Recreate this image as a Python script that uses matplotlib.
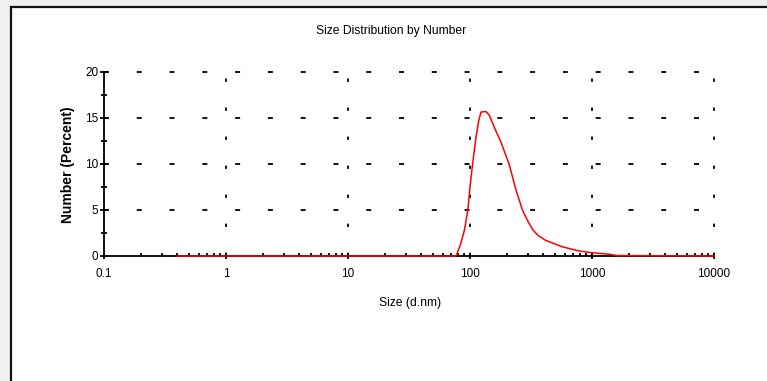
import numpy as np
import matplotlib
matplotlib.use("Agg")
import matplotlib.pyplot as plt
from matplotlib.patches import Rectangle
from matplotlib.ticker import LogLocator, MultipleLocator, FixedLocator, FixedFormatter, NullFormatter

plt.rcParams['font.family'] = ['Liberation Sans', 'DejaVu Sans']
plt.rcParams['lines.scale_dashes'] = False

# size (d.nm) and number (%)
size_nm = [0.4, 77, 84, 90, 96, 100, 105, 112, 118, 123, 135, 144, 158, 179,
           209, 238, 269, 295, 325, 360, 417, 571, 782, 1000, 1370, 1600, 10000]
number_pct = [0, 0, 1.35, 2.8, 5.0, 7.5, 10.0, 12.9, 14.75, 15.65, 15.7, 15.3, 14.0, 12.4,
              10.0, 7.2, 5.0, 3.9, 2.9, 2.25, 1.7, 1.0, 0.55, 0.35, 0.2, 0.05, 0]

x_ticks = [0.1, 1, 10, 100, 1000, 10000]
x_tick_labels = ['0.1', '1', '10', '100', '1000', '10000']
y_ticks = [0, 5, 10, 15, 20]

W, H = 767, 381
fig = plt.figure(figsize=(W / 100, H / 100), dpi=100, facecolor='#f0f0f0')

# white panel with dark border
fig.patches.append(Rectangle((11 / W, -0.1), 1.2, 1.1 - 7 / H, transform=fig.transFigure,
                             facecolor='white', edgecolor='#111111', linewidth=1.6, zorder=-5))

ax = fig.add_axes([104 / W, 1 - 256 / H, (714 - 104) / W, (256 - 72) / H])
ax.set_facecolor('none')
ax.set_xscale('log')
ax.set_xlim(0.1, 10000)
ax.set_ylim(0, 20)

# dashed grid
for yv in y_ticks[1:]:
    ax.axhline(yv, color='black', lw=1.3, linestyle=(0, (3.6, 20)), zorder=1, clip_on=False)
for xv in x_ticks[1:]:
    ax.axvline(xv, color='black', lw=1.3, linestyle=(0, (2.4, 18.5)), zorder=1, clip_on=False)

ax.plot(size_nm, number_pct, color='red', lw=1.1, zorder=3, clip_on=False)

for s in ['top', 'right']:
    ax.spines[s].set_visible(False)
for s in ['left', 'bottom']:
    ax.spines[s].set_linewidth(1.3)
    ax.spines[s].set_zorder(2)

ax.xaxis.set_major_locator(FixedLocator(x_ticks))
ax.xaxis.set_major_formatter(FixedFormatter(x_tick_labels))
ax.xaxis.set_minor_locator(LogLocator(base=10, subs=np.arange(2, 10)))
ax.xaxis.set_minor_formatter(NullFormatter())
ax.yaxis.set_major_locator(FixedLocator(y_ticks))
ax.yaxis.set_minor_locator(MultipleLocator(2.5))

ax.tick_params(axis='x', which='major', direction='inout', length=5, width=1.3, labelsize=8.5, pad=6)
ax.tick_params(axis='x', which='minor', direction='in', length=2, width=1.3)
ax.tick_params(axis='y', which='major', direction='inout', length=6, width=1.3, labelsize=8.5, pad=1)
ax.tick_params(axis='y', which='minor', direction='inout', length=5, width=1.3)

fig.text(391 / W, 1 - 31 / H, 'Size Distribution by Number', ha='center', va='center', fontsize=8.7)
fig.text(410 / W, 1 - 303 / H, 'Size (d.nm)', ha='center', va='center', fontsize=8.7)
fig.text(68 / W, 1 - 165 / H, 'Number (Percent)', ha='center', va='center', rotation=90,
         fontsize=10, fontweight='bold')

fig.savefig('out.png', dpi=100, facecolor=fig.get_facecolor())
